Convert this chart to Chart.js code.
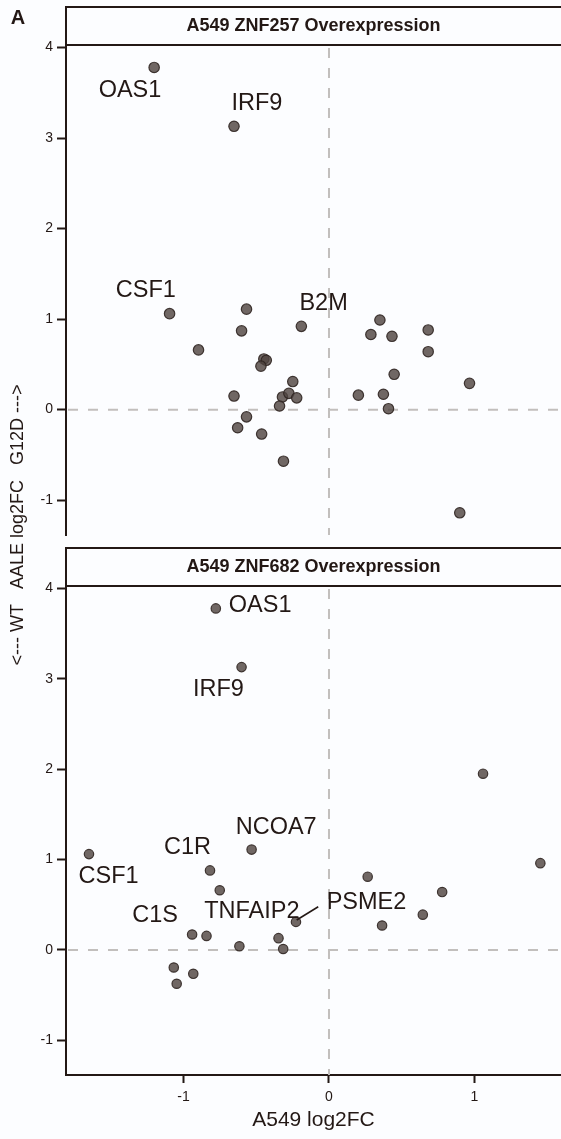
<!DOCTYPE html>
<html>
<head>
<meta charset="utf-8">
<script src="https://cdn.jsdelivr.net/npm/chart.js@4.4.0/dist/chart.umd.min.js"></script>
<style>
html, body { margin: 0; padding: 0; background: #fcfdff; overflow: hidden; }
#wrap { position: relative; width: 561px; height: 1139px; }
#wrap canvas { position: absolute; left: 0; top: 0; }
</style>
</head>
<body>
<div id="wrap">
<canvas id="topChart" width="561" height="1139"></canvas>
<canvas id="botChart" width="561" height="1139"></canvas>
</div>
<script>
// ticks
const xTicks = [-1, 0, 1];
const yTicks = [-1, 0, 1, 2, 3, 4];

// A549 ZNF257 Overexpression
const topX = [-1.202, -0.653, -1.096, -0.567, -0.601, -0.897, -0.448, -0.431, -0.468, -0.19,
    -0.249, 0.35, 0.288, 0.433, 0.682, 0.682, 0.448, 0.966, -0.653, -0.32,
    -0.276, -0.222, -0.34, 0.202, 0.374, 0.409, -0.567, -0.628, -0.463, -0.313, 0.899];
const topY = [3.78, 3.13, 1.06, 1.11, 0.87, 0.66, 0.56, 0.545, 0.48, 0.92,
    0.31, 0.99, 0.83, 0.81, 0.88, 0.64, 0.39, 0.29, 0.15, 0.14,
    0.18, 0.13, 0.04, 0.16, 0.17, 0.01, -0.08, -0.2, -0.27, -0.57, -1.14];
const topGenes = ['OAS1', 'IRF9', 'CSF1', 'B2M'];
const topGeneX = [-1.368, -0.496, -1.259, -0.037];
const topGeneY = [3.53, 3.385, 1.32, 1.176];

// A549 ZNF682 Overexpression
const botX = [-0.778, -0.601, 1.059, -1.65, -0.532, -0.818, -0.751, 0.266, 1.453, 0.778,
    0.645, 0.365, -0.227, -0.941, -0.842, -0.616, -0.347, -0.315, -1.067, -0.933, -1.047];
const botY = [3.78, 3.13, 1.95, 1.06, 1.11, 0.88, 0.66, 0.81, 0.96, 0.64,
    0.39, 0.27, 0.31, 0.17, 0.155, 0.04, 0.13, 0.01, -0.195, -0.265, -0.375];
const botGenes = ['OAS1', 'IRF9', 'CSF1', 'C1R', 'NCOA7', 'C1S', 'TNFAIP2', 'PSME2'];
const botGeneX = [-0.473, -0.76, -1.515, -0.973, -0.363, -1.195, -0.53, 0.258];
const botGeneY = [3.81, 2.884, 0.81, 1.133, 1.359, 0.378, 0.423, 0.525];
// leader line PSME2 label -> point
const botSegX = [-0.074, -0.222];
const botSegY = [0.478, 0.331];

const INK = '#231815';
const FONT = "'Liberation Sans', Arial, sans-serif";

function deco(title, genes, gx, gy, segX, segY, extra) {
    return {
        id: 'deco',
        beforeDatasetsDraw(chart) {
            const { ctx, chartArea: a, scales: { x, y } } = chart;
            const x0 = x.getPixelForValue(0), y0 = y.getPixelForValue(0);
            ctx.save();
            ctx.strokeStyle = '#c2bfbd';
            ctx.lineWidth = 2;
            ctx.setLineDash([10, 10]);
            ctx.beginPath();
            ctx.moveTo(x0, a.top + 3); ctx.lineTo(x0, a.bottom);
            ctx.moveTo(a.left + 2, y0); ctx.lineTo(a.right, y0);
            ctx.stroke();
            ctx.restore();
        },
        afterDraw(chart) {
            const { ctx, chartArea: a, scales: { x, y } } = chart;
            ctx.save();
            // strip
            ctx.strokeStyle = INK;
            ctx.lineWidth = 2;
            ctx.beginPath();
            ctx.moveTo(a.left - 1, a.top - 38); ctx.lineTo(a.right, a.top - 38);
            ctx.moveTo(a.left - 1, a.top); ctx.lineTo(a.right, a.top);
            ctx.moveTo(a.left, a.top - 38); ctx.lineTo(a.left, a.top);
            ctx.stroke();
            ctx.fillStyle = INK;
            ctx.font = 'bold 18px ' + FONT;
            ctx.textAlign = 'center';
            ctx.textBaseline = 'middle';
            ctx.fillText(title, (a.left + a.right) / 2, a.top - 19);
            // gene labels
            ctx.font = '23.5px ' + FONT;
            genes.forEach((g, i) => {
                ctx.fillText(g, x.getPixelForValue(gx[i]), y.getPixelForValue(gy[i]));
            });
            if (segX) {
                ctx.lineWidth = 1.6;
                ctx.beginPath();
                ctx.moveTo(x.getPixelForValue(segX[0]), y.getPixelForValue(segY[0]));
                ctx.lineTo(x.getPixelForValue(segX[1]), y.getPixelForValue(segY[1]));
                ctx.stroke();
            }
            if (extra) extra(ctx);
            ctx.restore();
        }
    };
}

function makeChart(id, xs, ys, radius, title, genes, gx, gy, segX, segY, showX, pad, extra) {
    return new Chart(document.getElementById(id), {
        type: 'scatter',
        data: {
            datasets: [{
                data: xs.map((v, i) => ({ x: v, y: ys[i] })),
                backgroundColor: 'rgba(80, 70, 66, 0.82)',
                borderColor: 'rgba(48, 38, 34, 0.9)',
                borderWidth: 1.2,
                pointRadius: radius,
                pointHoverRadius: radius
            }]
        },
        options: {
            responsive: false,
            animation: false,
            devicePixelRatio: 1,
            events: [],
            layout: { padding: pad, autoPadding: false },
            plugins: { legend: { display: false }, tooltip: { enabled: false } },
            scales: {
                x: {
                    type: 'linear',
                    display: showX,
                    min: -1.808,
                    max: 1.595,
                    afterBuildTicks: s => { s.ticks = xTicks.map(v => ({ value: v })); },
                    afterFit: s => { s.height = showX ? 64 : 0; },
                    grid: { drawOnChartArea: false, tickLength: 8, tickWidth: 2, tickColor: INK },
                    border: { display: true, color: INK, width: 2 },
                    ticks: { color: INK, padding: 6, font: { size: 14, family: FONT } },
                    title: {
                        display: true, text: 'A549 log2FC', color: INK,
                        padding: { top: 0, bottom: 6 }, font: { size: 21, family: FONT }
                    }
                },
                y: {
                    type: 'linear',
                    min: -1.385,
                    max: 4.028,
                    afterBuildTicks: s => { s.ticks = yTicks.map(v => ({ value: v })); },
                    afterFit: s => { s.width = 66; },
                    grid: { drawOnChartArea: false, tickLength: 9, tickWidth: 2, tickColor: INK },
                    border: { display: true, color: INK, width: 2 },
                    ticks: { color: INK, padding: 4, font: { size: 14, family: FONT } }
                }
            }
        },
        plugins: [deco(title, genes, gx, gy, segX, segY, extra)]
    });
}

makeChart('topChart', topX, topY, 5.2, 'A549 ZNF257 Overexpression',
    topGenes, topGeneX, topGeneY, null, null, false,
    { top: 45, bottom: 604, left: 0, right: 0 },
    ctx => {
        ctx.font = 'bold 20px ' + FONT;
        ctx.textAlign = 'center';
        ctx.fillText('A', 18, 18);
        ctx.font = '18px ' + FONT;
        ctx.translate(18, 525);
        ctx.rotate(-Math.PI / 2);
        ctx.fillText('<--- WT   AALE log2FC   G12D --->', 0, 0);
    });

makeChart('botChart', botX, botY, 4.7, 'A549 ZNF682 Overexpression',
    botGenes, botGeneX, botGeneY, botSegX, botSegY, true,
    { top: 586, bottom: 0, left: 0, right: 0 });
</script>
</body>
</html>
